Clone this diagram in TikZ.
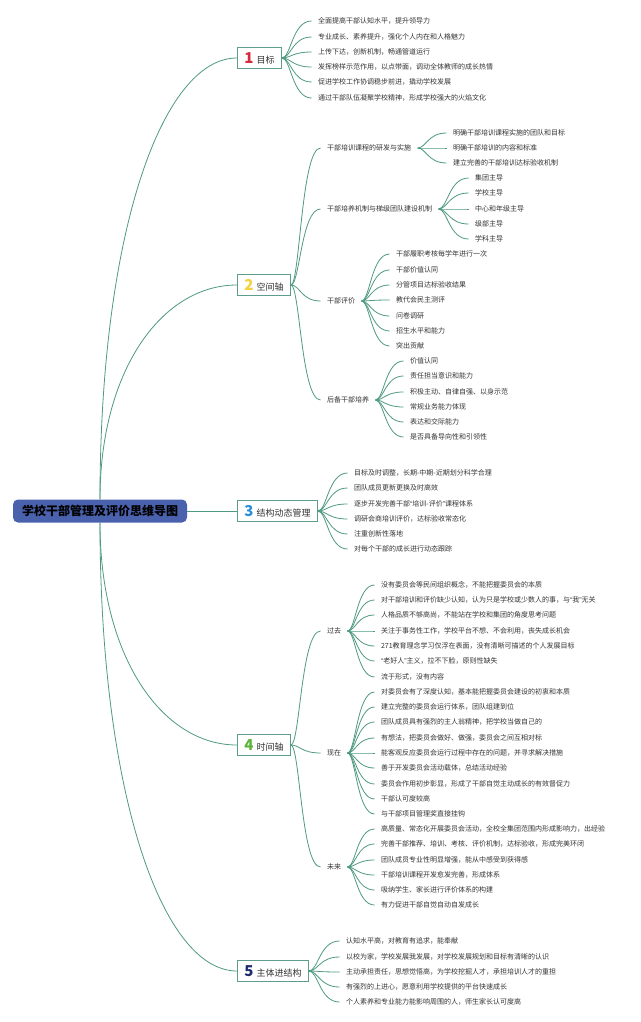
\documentclass[tikz,border=0pt]{standalone}
\usepackage{fontspec}
\setmainfont{Noto Sans CJK SC}
\newfontfamily\latq{Liberation Sans}
\usetikzlibrary{calc}
\definecolor{lc}{HTML}{4F9A80}
\definecolor{bc}{HTML}{5B9E8E}
\definecolor{rootfill}{HTML}{4A62AE}
\definecolor{nA}{HTML}{D8283A}
\definecolor{nB}{HTML}{F2D13C}
\definecolor{nC}{HTML}{2B90D9}
\definecolor{nD}{HTML}{5BB43A}
\definecolor{nE}{HTML}{1F2D6F}
\definecolor{tx}{HTML}{333333}
\newcommand\lk[2]{\draw[conn] let \p1=(#1.east), \p2=(#2.west) in (\p1) .. controls ({\x1+0.3*(\x2-\x1)},\y1) and ({\x1+0.35*(\x2-\x1)},\y2) .. (\p2);}
\newcommand\rk[3]{\draw[conn] let \p1=(#1.#3), \p2=(#2.west) in (\p1) .. controls (\x1,{\y1+0.6*(\y2-\y1)}) and ({\x1+0.45*(\x2-\x1)},\y2) .. (\p2);}
\newcommand\num[2]{{\fontsize{15}{15}\selectfont\bfseries\color{#1}#2}\hspace{3pt}}
\newcommand\myLq{{\latq “}}
\newcommand\myRq{{\latq ”}}
\begin{document}
\begin{tikzpicture}[x=1pt,y=-1pt,
  conn/.style={draw=lc,line width=0.8pt},
  leaf/.style={anchor=west,inner sep=0pt,outer xsep=6.5pt,font=\fontsize{7}{8}\selectfont,text=tx},
  mainbox/.style={anchor=west,draw=bc,line width=0.8pt,fill=white,minimum height=21pt,inner xsep=7pt,inner ysep=0pt,font=\fontsize{9}{10}\selectfont,text=tx},
  rootbox/.style={fill=rootfill,rounded corners=5pt,minimum width=174pt,minimum height=23pt,inner sep=0pt,font=\fontsize{12}{13}\selectfont\bfseries,text=black}]
\fill[white] (0,0) rectangle (640,1022);
\useasboundingbox (0,0) rectangle (640,1022);
% root
\node[rootbox] (root) at (100,511) {学校干部管理及评价思维导图};
% main boxes
\node[mainbox] (b1) at (237,58) {\num{nA}{1}目标};
\node[mainbox] (b2) at (237,285) {\num{nB}{2}空间轴};
\node[mainbox] (b3) at (237,511) {\num{nC}{3}结构动态管理};
\node[mainbox] (b4) at (237,745) {\num{nD}{4}时间轴};
\node[mainbox] (b5) at (237,971) {\num{nE}{5}主体进结构};
\rk{root}{b1}{north}
\rk{root}{b2}{north}
\draw[conn] (root.east) -- (b3.west);
\rk{root}{b4}{south}
\rk{root}{b5}{south}
% box 1
\foreach \yy/\t [count=\i] in {21/全面提高干部认知水平，提升领导力,37/专业成长、素养提升，强化个人内在和人格魅力,52/上传下达，创新机制，畅通管道运行,67/发挥榜样示范作用，以点带面，调动全体教师的成长热情,82/促进学校工作协调稳步前进，撬动学校发展,98/通过干部队伍凝聚学校精神，形成学校强大的火焰文化}{
  \node[leaf] (a\i) at (311.5,\yy) {\t};
  \lk{b1}{a\i}
}
% box 2 children
\node[leaf] (c1) at (320.5,148) {干部培训课程的研发与实施};
\node[leaf] (c2) at (320.5,209) {干部培养机制与梯级团队建设机制};
\node[leaf] (c3) at (320.5,301) {干部评价};
\node[leaf] (c4) at (320.5,400) {后备干部培养};
\foreach \i in {1,...,4}{\lk{b2}{c\i}}
\foreach \yy/\t [count=\i] in {133/明确干部培训课程实施的团队和目标,148/明确干部培训的内容和标准,163/建立完善的干部培训达标验收机制}{
  \node[leaf] (ca\i) at (446.5,\yy) {\t};
  \lk{c1}{ca\i}
}
\foreach \yy/\t [count=\i] in {178/集团主导,193/学校主导,209/中心和年级主导,224/级部主导,239/学科主导}{
  \node[leaf] (cb\i) at (468.5,\yy) {\t};
  \lk{c2}{cb\i}
}
\foreach \yy/\t [count=\i] in {254/干部履职考核每学年进行一次,270/干部价值认同,285/分管项目达标验收结果,300/教代会民主测评,316/问卷调研,331/招生水平和能力,346/突出贡献}{
  \node[leaf] (cc\i) at (389.5,\yy) {\t};
  \lk{c3}{cc\i}
}
\foreach \yy/\t [count=\i] in {361/价值认同,376/责任担当意识和能力,392/积极主动、自律自强、以身示范,407/常规业务能力体现,422/表达和交际能力,437/是否具备导向性和引领性}{
  \node[leaf] (cd\i) at (403.5,\yy) {\t};
  \lk{c4}{cd\i}
}
% box 3
\foreach \yy/\t [count=\i] in {473/目标及时调整，长期-中期-近期划分科学合理,488/团队成员更新更换及时高效,504/逐步开发完善干部\myLq 培训-评价\myRq 课程体系,519/调研会商培训评价，达标验收常态化,534/注重创新性落地,549/对每个干部的成长进行动态跟踪}{
  \node[leaf] (d\i) at (347.5,\yy) {\t};
  \lk{b3}{d\i}
}
% box 4 children
\node[leaf] (e1) at (320.5,631) {过去};
\node[leaf] (e2) at (320.5,753) {现在};
\node[leaf] (e3) at (320.5,867) {未来};
\foreach \i in {1,2,3}{\lk{b4}{e\i}}
\foreach \yy/\t [count=\i] in {585/没有委员会等民间组织概念，不能把握委员会的本质,600/对干部培训和评价缺少认知，认为只是学校或少数人的事，与\myLq 我\myRq 无关,615/人格品质不够高尚，不能站在学校和集团的角度思考问题,631/关注于事务性工作，学校平台不想、不会利用，丧失成长机会,646/271教育理念学习仅浮在表面，没有清晰可描述的个人发展目标,661/\myLq 老好人\myRq 主义，拉不下脸，原则性缺失,677/流于形式，没有内容}{
  \node[leaf] (ea\i) at (374.5,\yy) {\t};
  \lk{e1}{ea\i}
}
\foreach \yy/\t [count=\i] in {692/对委员会有了深度认知，基本能把握委员会建设的初衷和本质,707/建立完整的委员会运行体系，团队组建到位,722/团队成员具有强烈的主人翁精神，把学校当做自己的,738/有想法，把委员会做好、做强，委员会之间互相对标,753/能客观反应委员会运行过程中存在的问题，并寻求解决措施,768/善于开发委员会活动载体，总结活动经验,784/委员会作用初步彰显，形成了干部自觉主动成长的有效督促力,799/干部认可度较高,814/与干部项目管理奖直接挂钩}{
  \node[leaf] (eb\i) at (374.5,\yy) {\t};
  \lk{e2}{eb\i}
}
\foreach \yy/\t [count=\i] in {829/高质量、常态化开展委员会活动，全校全集团范围内形成影响力，出经验,844/完善干部推荐、培训、考核、评价机制，达标验收，形成完美环闭,860/团队成员专业性明显增强，能从中感受到获得感,875/干部培训课程开发愈发完善，形成体系,890/吸纳学生、家长进行评价体系的构建,905/有力促进干部自觉自动自发成长}{
  \node[leaf] (ec\i) at (374.5,\yy) {\t};
  \lk{e3}{ec\i}
}
% box 5
\foreach \yy/\t [count=\i] in {941/认知水平高，对教育有追求，能奉献,957/以校为家，学校发展我发展，对学校发展规划和目标有清晰的认识,972/主动承担责任，思想觉悟高，为学校挖掘人才，承担培训人才的重担,987/有强烈的上进心，愿意利用学校提供的平台快速成长,1002/个人素养和专业能力能影响周围的人，师生家长认可度高}{
  \node[leaf] (f\i) at (339.5,\yy) {\t};
  \lk{b5}{f\i}
}
\end{tikzpicture}
\end{document}
